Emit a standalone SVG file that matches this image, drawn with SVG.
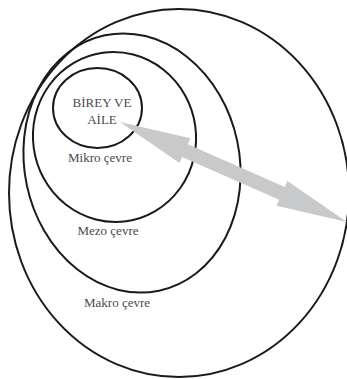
<svg xmlns="http://www.w3.org/2000/svg" width="347" height="379" viewBox="0 0 347 379">
<style>
.ring{fill:none;stroke:#1a1a1a;stroke-width:2}
.lbl{font-family:"Liberation Serif","Times New Roman",serif;font-size:13px;fill:#4a4a4a;text-anchor:middle}
.arrow{fill:#c8c9cb}
</style>
<rect width="347" height="379" fill="#ffffff"/>
<g id="makro">
<ellipse class="ring" cx="179" cy="193" rx="170" ry="184"/>
<text class="lbl" x="117" y="307">Makro çevre</text>
</g>
<g id="mezo">
<ellipse class="ring" cx="132" cy="163" rx="107.5" ry="130.5" transform="rotate(-12 132 163)"/>
<text class="lbl" x="108" y="235">Mezo çevre</text>
</g>
<g id="mikro">
<ellipse class="ring" cx="114.5" cy="137" rx="81.5" ry="85" transform="rotate(-8 114.5 137)"/>
<text class="lbl" x="100" y="162">Mikro çevre</text>
</g>
<g id="birey">
<ellipse class="ring" cx="97.5" cy="108" rx="44.5" ry="40"/>
<text class="lbl" x="102" y="107">BİREY VE</text>
<text class="lbl" x="102" y="124">AİLE</text>
</g>
<g id="connectors">
<polygon class="arrow" transform="translate(120,122) rotate(23.8)" points="0,0 71,-13.5 71,-7 177,-7 177,-13.5 248,0 177,13.5 177,7 71,7 71,13.5"/>
</g>
</svg>
